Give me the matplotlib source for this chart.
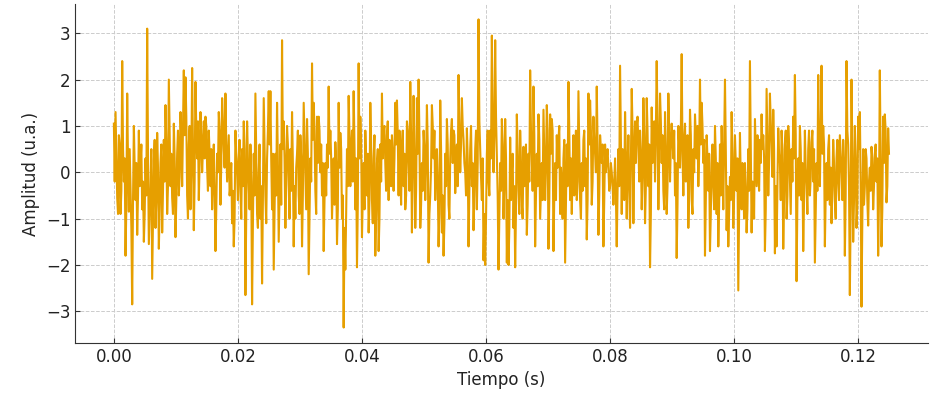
import numpy as np
import matplotlib
matplotlib.use("Agg")
import matplotlib.pyplot as plt

# === Signal samples (left to right) ===
# main samples: the visible spikes
amp_a = [1.05, 1.3, -0.55, 0.8, -0.9, 2.4, -0.2, -1.8, 1.7, -0.85,
         -0.4, -2.85, 1.0, -0.6, -1.35, 0.9, 0.2, -0.8, -1.5, 0.3,
         3.1, -1.55, -0.3, -2.3, 0.25, -1.2, 0.85, -1.65, 0.2, -1.3,
         0.7, 1.45, -0.9, 2.0, -0.3, -0.55, 1.05, -1.4, 0.4, -0.5,
         1.3, -0.3, 2.2, 2.05, -0.5, 0.6, -0.8, 2.25, -1.25, 1.95,
         0.3, -0.6, 1.3, 0.0, 1.1, 1.2, 0.1, 0.9, -0.3, -0.8,
         0.6, -1.7, 0.4, 1.3, -0.7, 1.6, 0.5, 1.7, -0.2, 0.8,
         -0.3, -1.1, -1.6, 0.9, 0.0, 0.3, -0.4, 0.5, 1.1, -2.65,
         1.1, -0.3, 0.6, -2.85, 0.4, 1.7, -0.9, 0.0, -1.0]

amp_b = [-2.4, 1.6, -0.5, 0.3, 1.75, 1.75, -0.8, -2.1, 0.4, 1.5,
         -1.5, 0.6, 2.85, 1.1, -1.2, 1.0, -0.3, 0.5, 1.3, -1.6,
         -1.0, 0.4, -0.5, 0.8, -1.6, 1.5, -0.2, 1.15, -2.2, 0.3,
         2.35, 1.5, -0.4, 1.2, 1.2, 0.0, -0.5, -1.7, 0.2, 0.6,
         1.85, 0.9, -1.0, 0.3, 0.65, -1.55, 1.5, 0.85, -1.0, -3.35,
         -2.1, 0.5, 1.65, -0.3, 0.9, 1.75, -0.8, -2.05, 2.35, 1.2,
         -1.4, 0.2, 0.9, -0.5, -1.3, 1.5, -0.6, 0.3, -1.8, 0.2,
         -1.7, 0.6, 1.7, 0.9, 0.2, 0.8, -0.6, 0.3, 0.8, -0.4,
         1.5, 1.55, -0.5, 0.0, 0.6, -0.3, -0.8, 1.1, 0.2, 1.95,
         -1.3, 1.65, -1.2]

amp_c = [1.6, 2.0, -1.2, 0.2, 0.9, -0.6, 1.45, -1.95, -0.5, 1.45,
         0.3, -0.6, 0.5, -1.6, 1.55, -1.3, -1.8, 0.4, 1.15, -0.7,
         0.3, 1.15, 0.9, -0.45, 0.6, 2.1, 0.0, 1.6, 0.7, 0.0,
         0.95, -1.6, 0.5, -0.3, -1.25, 0.5, -0.8, 3.3, 0.5, -0.6,
         -1.9, -2.0, 0.4, -0.2, 0.9, 2.95, 0.0, 2.85, 0.4, -2.1,
         0.2, 1.15, -1.0, 1.15, -1.95, -2.0, 0.75, 0.0, -1.2, -2.05,
         1.25, -0.4, 0.9, -0.7, 0.55, 0.1, -1.35, 0.4, 2.2, 0.3,
         1.85, -1.6, 0.4, 1.25, -1.0, 0.2, 1.35, -0.6, 1.45, -1.65,
         1.25, 1.15, -1.7, 0.2, 0.8, 0.7, -0.9, -0.4, 0.3, -1.95,
         0.6, 1.95, -0.6]

amp_d = [-0.9, 0.8, 0.3, -0.6, 1.75, -0.6, 0.2, 0.7, -0.3, -1.45,
         1.7, 1.55, -0.7, 1.2, 0.4, 1.85, -1.35, 0.8, 0.2, -1.6,
         0.6, 0.3, 0.1, -0.3, 0.0, -0.7, 0.3, -1.6, 0.5, 2.3,
         -0.9, 0.2, 1.3, -1.0, 0.8, -1.2, 1.8, -1.1, 1.1, 1.0,
         0.6, 0.9, -0.8, 1.6, -1.1, 1.6, -0.3, -2.05, 1.4, 0.7,
         -0.2, 2.4, -0.8, 1.7, 0.2, -0.4, 1.3, -0.9, 1.7, -0.2,
         1.05, 0.3, -0.5, -1.85, 1.0, 0.1, 2.55, -0.5, 1.05, 0.4,
         -1.2, 1.35, -0.6, 0.5, 1.25, 0.3, -0.3, 2.0, 1.5, 0.2,
         -1.8, 0.8, -0.4, -1.7, 0.2, -0.3, 1.0, -0.9, -1.6, 0.6,
         1.0, -0.8, 2.0]

amp_e = [-1.25, -1.6, -0.1, 1.3, -1.2, 0.8, -0.4, -2.55, 0.85, -0.8,
         -0.3, 0.2, -1.3, 0.5, 2.4, -1.3, -0.5, 1.15, -0.3, 0.0,
         0.7, 1.25, 0.8, -1.7, 1.8, -0.5, 1.7, 0.6, 1.35, -1.75,
         -1.6, 0.95, 0.2, 0.9, -1.65, 0.6, -1.0, 1.0, -0.2, 0.5,
         1.2, 2.1, -2.35, 0.3, 1.0, -0.6, -1.7, 0.9, -0.3, 0.5,
         -0.5, 0.65, -0.2, -1.95, 0.2, 2.1, -0.3, 2.3, 1.0, -1.6,
         0.2, 0.5, -0.7, -1.1, 0.7, -0.6, 0.3, -0.2, 0.8, 0.0,
         0.7, -1.8, 2.4, 0.6, -2.65, 2.0, -1.5, 1.0, -1.2, 1.2,
         1.3, -2.9, 0.5, -0.3, 0.3, -1.15, 0.1, 0.55, -0.8, 0.4,
         -0.2, -1.8, 2.2, -1.6, 1.2, 1.25, -0.65, 0.95]

# in-between samples: the dense band that fills the gaps between spikes
mid_a = [-0.2, 0.4, -0.9, 0.6, -0.4, 0.5, 0.3, -0.7, 0.2, 0.5,
         -1.2, -0.6, 0.1, 0.2, -0.5, -0.3, 0.6, -0.2, -0.9, -0.5,
         0.4, -0.9, 0.5, -1.1, 0.7, -0.6, 0.1, -0.8, 0.6, -0.4,
         -0.2, 0.6, -0.3, 0.8, 0.4, -0.9, 0.3, -0.6, 0.9, -0.1,
         0.7, 0.9, 0.8, 1.2, -1.0, 1.0, 0.1, 0.6, -0.2, 0.9,
         1.1, 0.2, 0.8, 0.5, 0.3, 1.0, -0.4, 0.4, 0.5, -0.2,
         -0.4, -0.8, 0.0, 0.9, 0.2, 1.1, 0.1, 0.6, 0.3, -0.5,
         0.2, -0.4, -1.0, 0.4, -0.6, 0.7, -1.0, -0.3, 0.5, -0.9,
         0.3, -0.8, -0.2, -1.1, -0.5, 0.4, -1.2, 0.6, -0.3]

mid_b = [-0.6, 0.5, -1.1, 0.9, 0.6, 0.3, 0.4, -0.8, -0.5, 0.2,
         -0.4, -0.7, 0.5, 0.3, -0.1, 0.6, -1.0, -0.4, 0.2, -0.3,
         0.1, 0.9, -0.9, 0.3, -0.5, 0.7, -0.8, 0.4, -0.9, -0.2,
         0.7, 0.9, -0.9, 0.2, 0.9, 0.6, 0.2, -0.6, -0.5, 0.1,
         0.4, 0.3, -0.3, -0.7, 0.2, -0.8, 0.1, 0.5, -0.5, -1.2,
         -0.9, -0.3, 0.8, 0.5, -0.2, 0.6, 0.3, -0.7, 0.3, 0.7,
         -0.5, -0.8, 0.3, 0.4, -0.6, 0.6, -1.1, 0.8, -0.9, 0.5,
         -1.0, -0.2, 0.3, 1.0, -0.4, 1.1, 0.7, -0.3, 0.4, 0.3,
         0.6, 0.8, 0.9, -0.7, 0.9, 0.4, -0.5, 0.9, -0.4, 0.8,
         0.1, 0.4, -0.4]

mid_c = [0.4, 0.8, -0.7, -0.4, 0.5, 0.2, 0.6, -0.9, 0.1, 1.0,
         0.9, 0.0, -0.2, -0.9, 0.5, -0.5, -1.1, -0.3, 0.6, -1.0,
         0.9, 0.2, 0.8, 0.2, -0.3, 0.9, 0.6, 1.0, 0.2, -0.5,
         0.3, -0.4, 1.0, 0.2, -0.5, 0.9, 0.2, 1.1, -0.1, 0.3,
         -0.9, -1.0, 0.9, -0.5, 0.3, 1.1, 0.8, 1.2, -0.5, -1.0,
         -0.4, 0.6, -0.2, 0.3, -0.6, -1.2, -0.6, 0.4, -0.3, -0.8,
         0.5, -0.9, 0.2, -1.0, -0.3, 0.6, -0.7, -0.2, 0.9, -0.4,
         0.8, -0.5, -0.3, 0.7, -0.4, -0.6, 0.4, 0.1, 0.9, -0.6,
         0.4, 0.9, -0.5, -0.6, 0.1, 1.0, 0.1, -1.0, 0.7, -0.6,
         -0.3, 0.9, 0.3]

mid_d = [0.1, -0.5, 0.9, -0.2, 0.5, -1.0, -0.4, 0.9, 0.3, -0.6,
         0.6, 0.9, -0.2, 0.7, 0.0, 0.6, -0.5, 0.5, 0.6, -0.6,
         0.0, 0.5, -0.4, 0.2, -0.3, -0.2, -0.5, -0.4, -0.3, 0.6,
         0.5, -0.6, 0.4, 0.1, -0.3, 0.2, 0.9, 0.3, 0.2, 1.2,
         -0.2, 0.4, -0.1, 0.8, -0.3, 0.9, 0.6, -0.9, 0.2, 1.1,
         0.9, 1.0, 0.3, 1.1, 0.8, -0.8, 0.5, -0.3, 0.9, 0.6,
         0.7, 0.9, 0.2, -0.7, 0.6, 0.9, 0.4, 0.7, -0.2, 0.8,
         -0.4, 0.8, -0.9, 0.0, 0.8, 1.0, 0.4, 0.6, 1.0, 0.7,
         -0.6, 0.3, 0.4, -0.9, 0.6, -0.8, 0.3, 0.2, -0.7, -0.5,
         0.2, 0.6, 0.5]

mid_e = [-0.3, -0.9, -0.6, 0.4, -0.5, 0.2, 0.3, -0.9, -0.2, 0.2,
         -1.0, -0.4, -0.8, -0.4, 0.5, -0.2, -1.0, 0.4, 0.8, -0.4,
         0.2, 0.5, 0.3, -0.8, 0.7, 0.2, 1.1, -0.1, 0.5, -0.3,
         -0.4, 0.4, -0.6, 0.5, -0.6, 0.9, -0.5, 0.6, -0.9, -0.2,
         0.3, 0.8, -0.6, -0.5, 0.5, 0.2, -0.6, 0.1, -0.9, 0.9,
         -0.1, 0.9, 0.5, -0.9, -0.4, 0.5, 0.9, 0.4, 0.6, -0.5,
         -0.6, 0.8, 0.1, -0.4, 0.2, -1.0, 0.7, -0.6, 0.4, -0.6,
         0.2, -0.5, 0.9, -0.3, -0.8, 0.4, -0.6, 0.3, -0.7, 0.5,
         -0.2, -1.0, -0.7, 0.5, -0.6, -0.2, -0.4, 0.3, -0.3, 0.6,
         0.3, -0.6, 0.4, -0.8, 0.2, 0.9, -0.3, 0.4]

main = np.array(amp_a + amp_b + amp_c + amp_d + amp_e)
between = np.array(mid_a + mid_b + mid_c + mid_d + mid_e)
amplitud = np.column_stack([main, between]).ravel()

t_end = 0.125
tiempo = np.linspace(0, t_end, len(amplitud))

# === Plot ===
fig = plt.figure(figsize=(9.39, 3.96), dpi=100)
ax = fig.add_axes([0.080, 0.134, 0.908, 0.856])
ax.plot(tiempo, amplitud, color='#E69F00', linewidth=1.5)

ax.set_xlabel("Tiempo (s)", fontsize=12, color='#222222')
ax.set_ylabel("Amplitud (u.a.)", fontsize=12, color='#222222')
ax.grid(True, linestyle='--', color='#cccccc', linewidth=0.7)
ax.set_axisbelow(True)
ax.spines['top'].set_visible(False)
ax.spines['right'].set_visible(False)
for s in ('left', 'bottom'):
    ax.spines[s].set_color('#333333')
ax.tick_params(direction='in', labelsize=12, color='#333333', labelcolor='#222222')

fig.savefig("out.png", dpi=100)
